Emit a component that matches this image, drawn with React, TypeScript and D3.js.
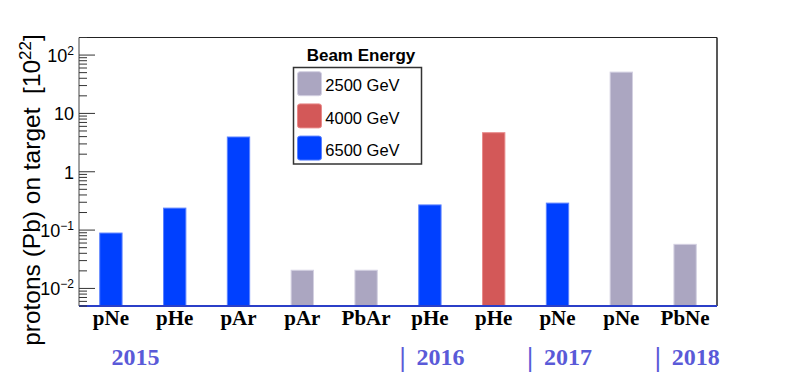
import React from 'react';
import * as d3 from 'd3';

// Values
const categories = ['pNe', 'pHe', 'pAr', 'pAr', 'PbAr', 'pHe', 'pHe', 'pNe', 'pNe', 'PbNe'];
const protonsOnTarget = [0.089, 0.238, 3.94, 0.0205, 0.0205, 0.27, 4.67, 0.29, 51, 0.057];
const beamEnergy = [6500, 6500, 6500, 2500, 2500, 6500, 4000, 6500, 2500, 2500];
const energyLevels = [2500, 4000, 6500];
const years = ['2015', '2016', '2017', '2018'];
const yearStartIndex = [0, 5, 7, 9];
const yTicks = [0.01, 0.1, 1, 10, 100];

const fills: Record<number, string> = { 2500: '#aba6c1', 4000: '#d35858', 6500: '#0040ff' };
const strokes: Record<number, string> = { 2500: '#d3d0e2', 4000: '#e88a8a', 6500: '#5b82ff' };

const width = 797;
const height = 384;
const margin = { top: 37.5, right: 80, bottom: 78, left: 79 };

const App = () => {
  const x = d3.scaleBand<number>()
    .domain(categories.map((_, i) => i))
    .range([margin.left, width - margin.right])
    .padding(0);

  const y = d3.scaleLog()
    .domain([0.005, 200])
    .range([height - margin.bottom, margin.top]);

  const barW = x.bandwidth() * 0.35;

  // minor ticks 2..9 of each decade
  const minor: number[] = [];
  for (let e = -3; e <= 2; e++) {
    for (let m = 2; m <= 9; m++) {
      const v = m * Math.pow(10, e);
      if (v >= 0.005 && v <= 200) minor.push(v);
    }
  }

  const tickLabel = (v: number) => {
    const e = Math.round(Math.log10(v));
    if (e === 0 || e === 1) return <tspan>{String(v)}</tspan>;
    return (
      <>
        <tspan>10</tspan>
        <tspan fontSize={12} dy={-7}>{e < 0 ? '\u2212' + Math.abs(e) : String(e)}</tspan>
      </>
    );
  };

  const bottom = height - margin.bottom;

  return (
    <svg width={width} height={height} style={{ position: 'absolute', left: 0, top: 0, background: '#fff' }}>
      {/* bars */}
      {protonsOnTarget.map((v, i) => (
        <rect key={i}
          x={x(i)! + x.bandwidth() / 2 - barW / 2}
          y={y(v)}
          width={barW}
          height={bottom - y(v)}
          fill={fills[beamEnergy[i]]}
          stroke={strokes[beamEnergy[i]]}
          strokeWidth={1} />
      ))}

      {/* frame */}
      <line x1={margin.left} x2={width - margin.right} y1={margin.top} y2={margin.top} stroke="#222" strokeWidth={1.2} />
      <line x1={width - margin.right} x2={width - margin.right} y1={margin.top} y2={bottom} stroke="#222" strokeWidth={1.5} />
      <line x1={margin.left} x2={margin.left} y1={margin.top} y2={bottom} stroke="#444" strokeWidth={1} />
      <line x1={margin.left} x2={width - margin.right} y1={bottom} y2={bottom} stroke="#2b3fc8" strokeWidth={2.2} />

      {/* y ticks */}
      {minor.map((v, i) => (
        <line key={'m' + i} x1={margin.left} x2={margin.left + 8} y1={y(v)} y2={y(v)} stroke="#333" strokeWidth={1} />
      ))}
      {yTicks.map((v, i) => (
        <g key={'t' + i}>
          <line x1={margin.left} x2={margin.left + 16} y1={y(v)} y2={y(v)} stroke="#333" strokeWidth={1} />
          <text x={margin.left - 5} y={y(v) + 7} textAnchor="end" fontFamily="Liberation Sans, Arial, sans-serif" fontSize={18} fill="#000">
            {tickLabel(v)}
          </text>
        </g>
      ))}

      {/* y title */}
      <text transform={`translate(40, 190) rotate(-90)`} textAnchor="middle"
        fontFamily="Liberation Sans, Arial, sans-serif" fontSize={24.5} fill="#000" style={{ whiteSpace: 'pre' }}>
        <tspan>{'protons (Pb) on target  [10'}</tspan>
        <tspan fontSize={17} dy={-9}>22</tspan>
        <tspan dy={9}>]</tspan>
      </text>

      {/* category labels */}
      {categories.map((c, i) => (
        <text key={'c' + i} x={x(i)! + x.bandwidth() / 2} y={325} textAnchor="middle"
          fontFamily="Liberation Serif, Times New Roman, serif" fontWeight="bold" fontSize={21} fill="#000">
          {c}
        </text>
      ))}

      {/* year labels */}
      {years.map((yr, k) => {
        const i = yearStartIndex[k];
        const x0 = x(i)!;
        return (
          <g key={'y' + k} fontFamily="Liberation Serif, Times New Roman, serif" fontWeight="bold" fontSize={24} fill="#5a5ad8">
            {k > 0 && <text x={x0 + 1.5} y={366} fontSize={28}>|</text>}
            <text x={k > 0 ? x0 + 18.5 : x0 + x.bandwidth() / 2 + 0.5} y={365}>{yr}</text>
          </g>
        );
      })}

      {/* legend */}
      <text x={361} y={60.5} textAnchor="middle" fontFamily="Liberation Sans, Arial, sans-serif" fontWeight="bold" fontSize={17} fill="#000">
        Beam Energy
      </text>
      <rect x={293.5} y={67.5} width={128} height={96.5} fill="#fff" stroke="#333" strokeWidth={1.5} />
      {energyLevels.map((e, i) => (
        <g key={'l' + i}>
          <rect x={297.5} y={71.7 + i * 32.2} width={24} height={24} rx={2.5}
            fill={fills[e]} stroke={strokes[e]} strokeWidth={1} />
          <text x={325.3} y={91.3 + i * 32.2} fontFamily="Liberation Sans, Arial, sans-serif" fontSize={16.5} fill="#000">
            {e} GeV
          </text>
        </g>
      ))}
    </svg>
  );
};

export default App;
